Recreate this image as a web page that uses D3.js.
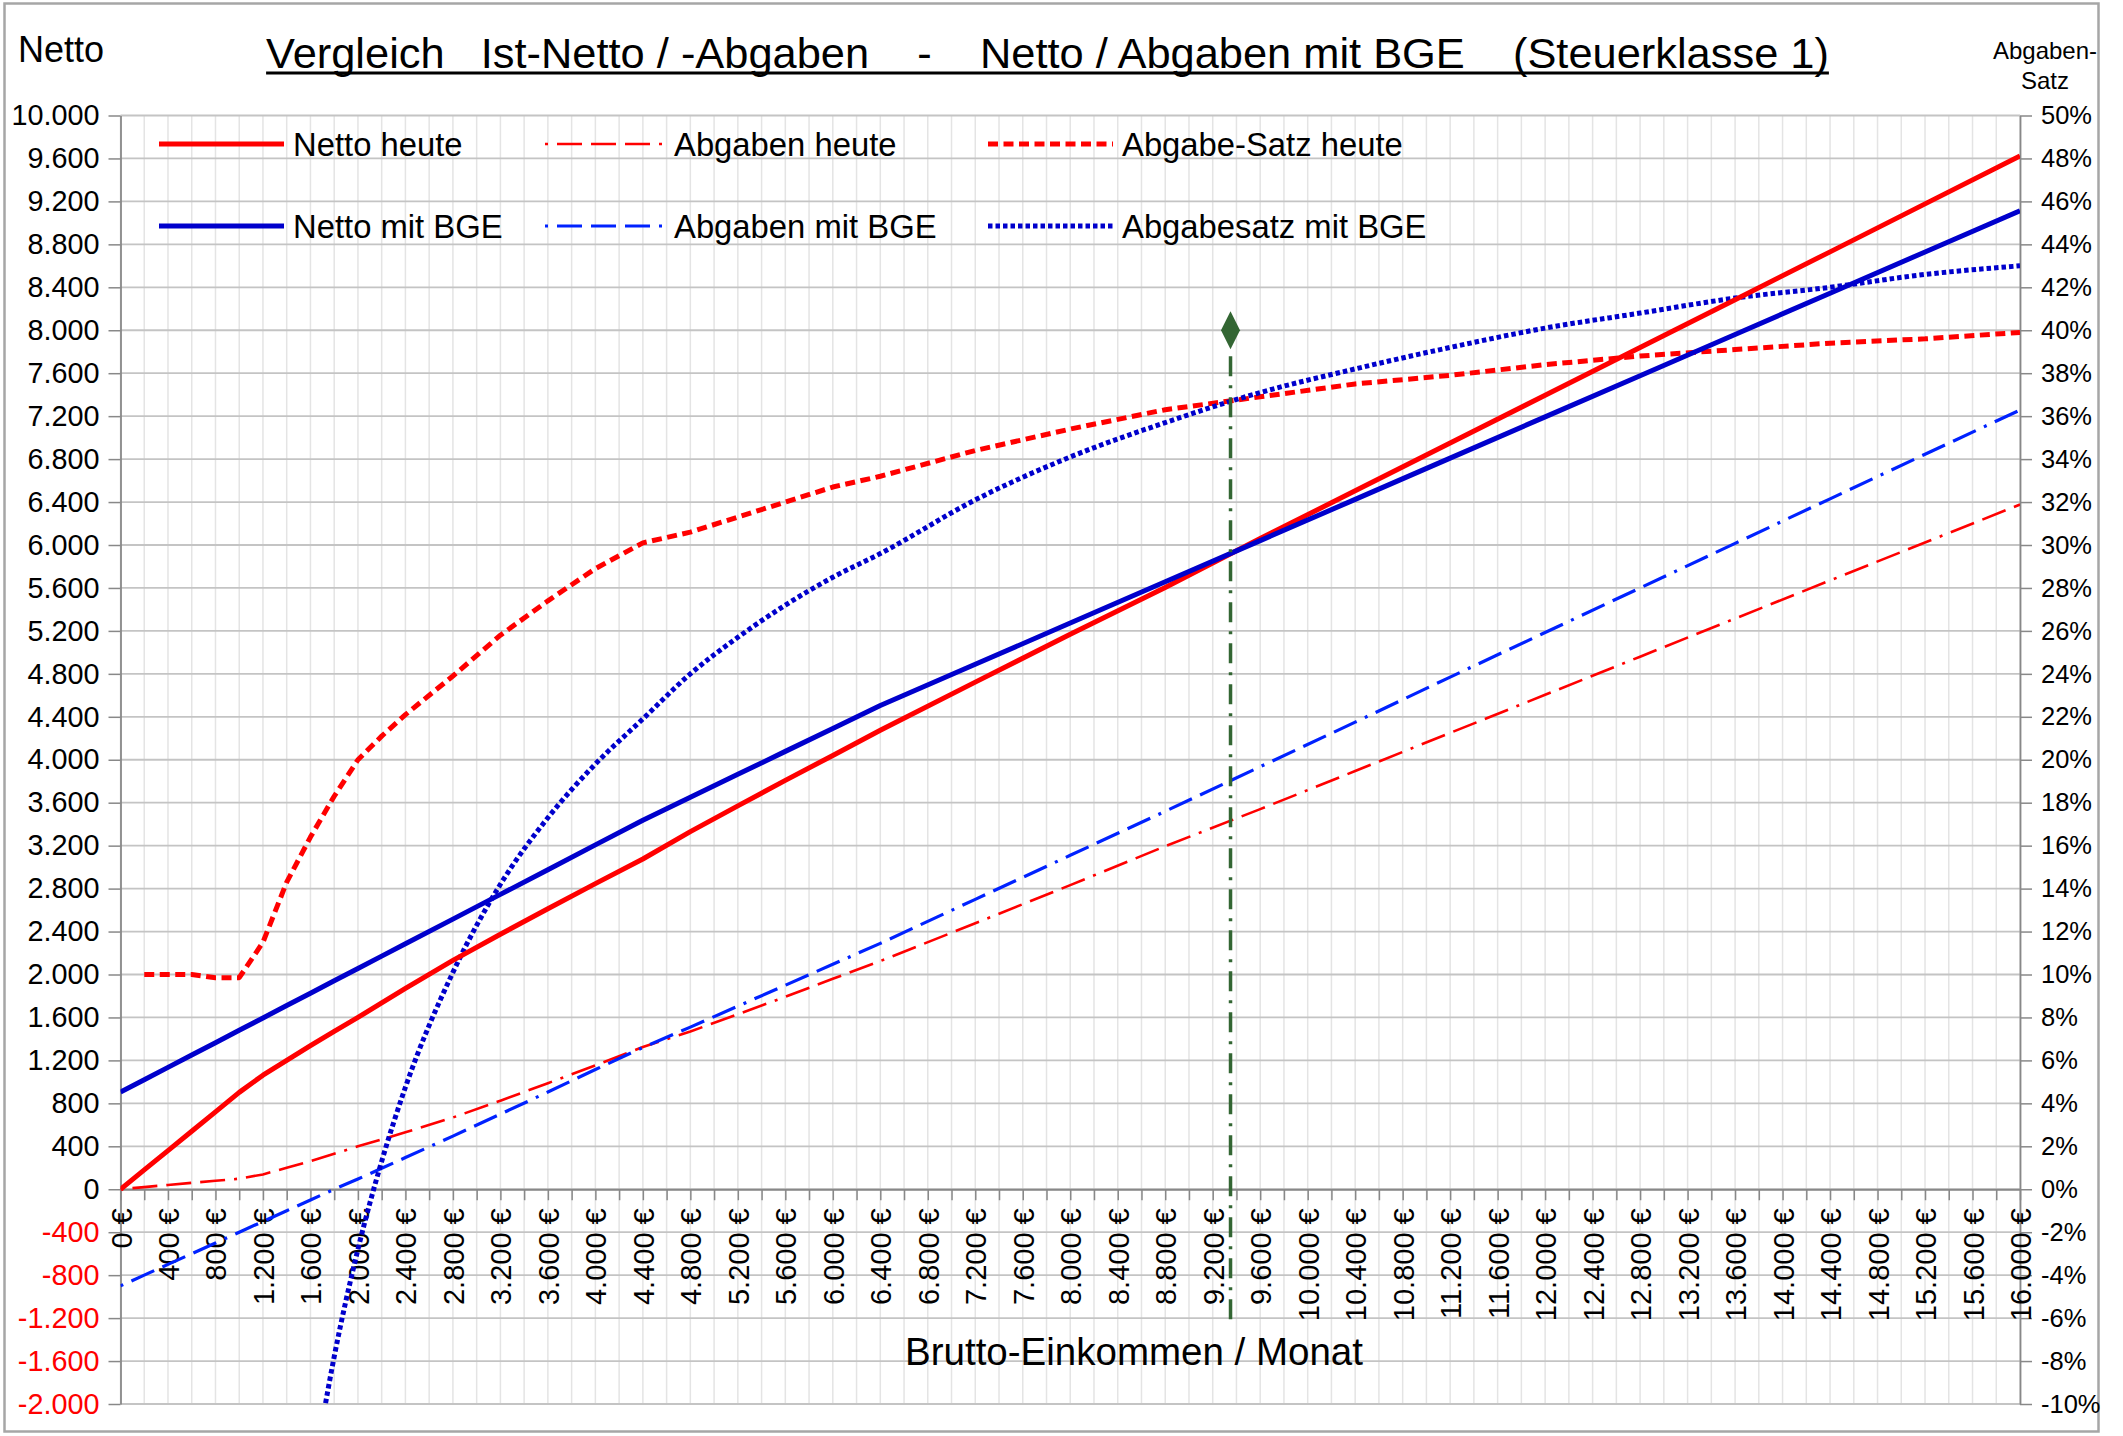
<!DOCTYPE html>
<html><head><meta charset="utf-8">
<script src="https://cdn.jsdelivr.net/npm/d3@7"></script>
<style>
html,body{margin:0;padding:0;background:#fff;}
svg{display:block;font-family:"Liberation Sans", Arial, sans-serif;}
</style></head><body>
<svg id="chart" width="2123" height="1436"></svg>
<script>
// ---------- data ----------
const brutto = [0,200,400,600,800,1000,1200,1400,1600,1800,2000,2200,2400,2800,3200,3600,4000,4400,4800,5200,5600,6000,6400,7200,8000,8800,9600,10400,11200,12000,12800,13600,14400,15200,16000];
const nettoHeute = [0,180,360,540,721,902,1062,1200,1338,1470,1600,1736,1870,2132,2375,2612,2846,3076,3331,3570,3808,4040,4275,4723,5168,5605,6060,6505,6950,7395,7840,8285,8730,9177,9623];
const abgabenHeute = [0,20,40,60,79,98,138,200,262,330,400,464,530,668,825,988,1154,1324,1469,1630,1792,1960,2125,2477,2832,3195,3540,3895,4250,4605,4960,5315,5670,6023,6377];
const satzHeute = [null,10,10,10,9.85,9.85,11.5,14.3,16.4,18.3,20,21.1,22.1,23.9,25.8,27.4,28.9,30.1,30.6,31.3,32,32.7,33.2,34.4,35.4,36.3,36.9,37.5,37.9,38.4,38.8,39.1,39.4,39.6,39.9];
const nettoBGE = [905,1020,1135,1250,1365,1480,1595,1711,1826,1941,2056,2171,2286,2516,2746,2976,3207,3436,3650,3864,4078,4291,4505,4889,5273,5657,6041,6425,6809,7193,7577,7961,8345,8729,9113];
const abgabenBGE = [-900,-800,-700,-600,-500,-400,-300,-200,-100,0,95,195,295,495,700,905,1115,1320,1510,1705,1900,2095,2290,2700,3110,3520,3935,4350,4770,5185,5600,6015,6430,6845,7257];
const satzBGE = [null,null,null,null,null,null,null,null,-14.1,-7.8,-2.8,1.3,4.75,10.1,14.2,17.3,19.8,21.9,24.0,25.7,27.2,28.5,29.6,32.1,34.1,35.7,37.1,38.2,39.2,40.1,40.8,41.5,42.0,42.6,43.0];
const markerBrutto = [9350];
const markerTop = [8000];
const markerBottom = [-1220];
const yTickValues = d3.range(-2000, 10001, 400);
const yRightTickValues = d3.range(-10, 51, 2);
const xMinorValues = d3.range(0, 16001, 200);
const seriesNames = ["Netto heute","Abgaben heute","Abgabe-Satz heute","Netto mit BGE","Abgaben mit BGE","Abgabesatz mit BGE"];
const titleText = "Vergleich   Ist-Netto / -Abgaben    -    Netto / Abgaben mit BGE    (Steuerklasse 1)";

// ---------- layout ----------
const L = 120.5, R = 2020, T = 115.5, B = 1404;
const svg = d3.select("#chart");
const x = d3.scaleLinear().domain([0,16000]).range([L,R]);
const y = d3.scaleLinear().domain([-2000,10000]).range([B,T]);
const yR = d3.scaleLinear().domain([-10,50]).range([B,T]);
const de = d3.formatLocale({decimal:",", thousands:".", grouping:[3], currency:["",""], minus:"-"});
const fmt = de.format(",.0f");

// frame
svg.append("rect").attr("x",4.5).attr("y",3.5).attr("width",2094).attr("height",1428)
  .attr("fill","#fff").attr("stroke","#a6a6a6").attr("stroke-width",2.5);

// vertical minor grid
svg.append("g").selectAll("line").data(xMinorValues).join("line")
  .attr("x1",d=>x(d)).attr("x2",d=>x(d)).attr("y1",T).attr("y2",B)
  .attr("stroke","#e4e4e4").attr("stroke-width",1.5);
// horizontal grid
svg.append("g").selectAll("line").data(yTickValues).join("line")
  .attr("x1",L).attr("x2",R).attr("y1",d=>y(d)).attr("y2",d=>y(d))
  .attr("stroke","#c4c4c4").attr("stroke-width",1.8);

// left axis
const gl = svg.append("g").attr("transform",`translate(${L},0)`)
  .call(d3.axisLeft(y).tickValues(yTickValues).tickSize(12).tickSizeOuter(0).tickPadding(9).tickFormat(fmt));
gl.selectAll("text").attr("font-size",28.8).attr("font-family","Liberation Sans, Arial, sans-serif")
  .attr("fill",d=>d<0?"#ff0000":"#000");
// right axis
const gr = svg.append("g").attr("transform",`translate(${R},0)`)
  .call(d3.axisRight(yR).tickValues(yRightTickValues).tickSize(12).tickSizeOuter(0).tickPadding(9).tickFormat(d=>d+"%"));
gr.selectAll("text").attr("font-size",25.5).attr("font-family","Liberation Sans, Arial, sans-serif").attr("fill","#000");
// bottom axis on zero line
const gb = svg.append("g").attr("transform",`translate(0,${y(0)})`)
  .call(d3.axisBottom(x).tickValues(xMinorValues).tickSize(11).tickSizeOuter(0)
    .tickFormat(d=>d%400===0 ? fmt(d)+" €" : ""));
gb.selectAll("text").attr("font-size",29).attr("font-family","Liberation Sans, Arial, sans-serif")
  .attr("fill","#000").attr("transform","rotate(-90)").attr("text-anchor","end")
  .attr("x",-19).attr("y",10.5).attr("dy","0");
[gl,gr,gb].forEach(g=>{
  g.selectAll(".domain").attr("stroke","#888").attr("stroke-width",1.8);
  g.selectAll(".tick line").attr("stroke","#888").attr("stroke-width",1.5);
});

// clip
svg.append("clipPath").attr("id","plotclip").append("rect")
  .attr("x",L).attr("y",T).attr("width",R-L).attr("height",B-T);
const plot = svg.append("g").attr("clip-path","url(#plotclip)");

const styles = [
  {color:"#ff0000", width:5, dash:null},
  {color:"#ff0000", width:2.6, dash:"3,9,25,9,25,9,25,9"},
  {color:"#ff0000", width:5, dash:"10,5.5"},
  {color:"#0000cc", width:5, dash:null},
  {color:"#0022ff", width:3.2, dash:"3,9,25,9,25,9,25,9"},
  {color:"#0000cc", width:5, dash:"4.5,3"}
];
const seriesData = [
  {vals:nettoHeute, sc:y, curve:d3.curveLinear},
  {vals:abgabenHeute, sc:y, curve:d3.curveLinear},
  {vals:satzHeute, sc:yR, curve:d3.curveLinear},
  {vals:nettoBGE, sc:y, curve:d3.curveLinear},
  {vals:abgabenBGE, sc:y, curve:d3.curveLinear},
  {vals:satzBGE, sc:yR, curve:d3.curveMonotoneX}
];
const drawOrder = [1,4,2,5,0,3];
drawOrder.forEach(i=>{
  const s = seriesData[i], st = styles[i];
  const pts = brutto.map((b,k)=>[b,s.vals[k]]);
  const line = d3.line().defined(d=>d[1]!==null).x(d=>x(d[0])).y(d=>s.sc(d[1])).curve(s.curve);
  plot.append("path").attr("d",line(pts)).attr("fill","none")
    .attr("stroke",st.color).attr("stroke-width",st.width)
    .attr("stroke-dasharray",st.dash).attr("stroke-linejoin","round");
});

// green marker
const green = "#336633";
markerBrutto.forEach((mb,i)=>{
  plot.append("line").attr("x1",x(mb)).attr("x2",x(mb))
    .attr("y1",y(markerTop[i])+26).attr("y2",y(markerBottom[i]))
    .attr("stroke",green).attr("stroke-width",3.5).attr("stroke-dasharray","20,9,3,9");
  const cx = x(mb), cy = y(markerTop[i]);
  svg.append("path").attr("d",`M${cx},${cy-19}L${cx+9.5},${cy}L${cx},${cy+19}L${cx-9.5},${cy}Z`).attr("fill",green);
});

// legend
const legCols = [159,545,988], legSample=[125,120,125], legRows=[144,226];
seriesNames.forEach((name,i)=>{
  const col = i%3, row = Math.floor(i/3);
  const sIdx = row===0 ? col : 3+col;
  const st = styles[sIdx];
  const lx = legCols[col], ly = legRows[row];
  svg.append("line").attr("x1",lx).attr("x2",lx+legSample[col]).attr("y1",ly).attr("y2",ly)
    .attr("stroke",st.color).attr("stroke-width",st.width).attr("stroke-dasharray",st.dash);
  svg.append("text").attr("x",lx+legSample[col]+9).attr("y",ly+11.5)
    .attr("font-size",32.8).attr("fill","#000").text(seriesNames[sIdx]);
});

// title
const tt = svg.append("text").attr("x",1047.5).attr("y",68).attr("text-anchor","middle")
  .attr("font-size",43.4).attr("fill","#000").style("white-space","pre").text(titleText);
const tw = tt.node().getComputedTextLength();
svg.append("line").attr("x1",1047.5-tw/2).attr("x2",1047.5+tw/2).attr("y1",73).attr("y2",73)
  .attr("stroke","#000").attr("stroke-width",3);

// axis titles
svg.append("text").attr("x",18).attr("y",62).attr("font-size",36).attr("fill","#000").text("Netto");
const rt = svg.append("text").attr("x",2045).attr("text-anchor","middle").attr("font-size",24).attr("fill","#000");
rt.append("tspan").attr("x",2045).attr("y",59).text("Abgaben-");
rt.append("tspan").attr("x",2045).attr("y",89).text("Satz");
svg.append("text").attr("x",1134).attr("y",1365).attr("text-anchor","middle")
  .attr("font-size",38.5).attr("fill","#000").text("Brutto-Einkommen / Monat");
</script>
</body></html>
